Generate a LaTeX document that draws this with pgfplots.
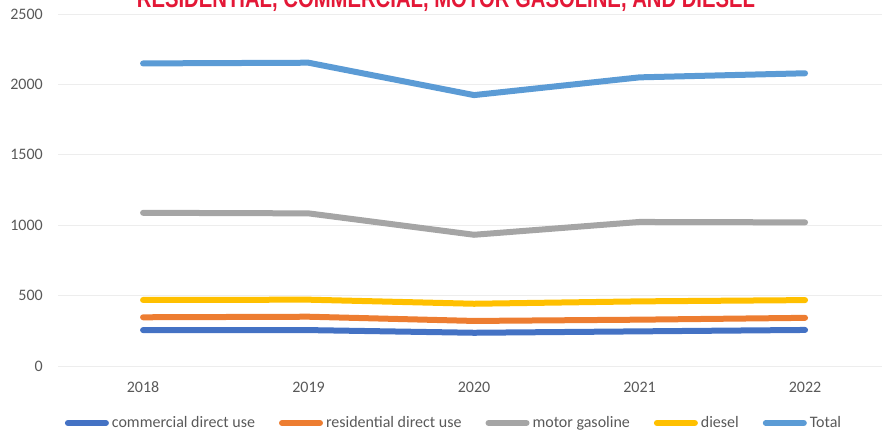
\documentclass[border=0pt]{standalone}
\usepackage{fontspec}
\setmainfont{Carlito}
\newfontfamily\titlefont{Liberation Sans}[FakeStretch=0.78]
\usepackage{pgfplots}
\pgfplotsset{compat=1.18}

\definecolor{comm}{HTML}{4472C4}
\definecolor{resi}{HTML}{ED7D31}
\definecolor{gaso}{HTML}{A5A5A5}
\definecolor{dies}{HTML}{FFC000}
\definecolor{totl}{HTML}{5B9BD5}
\definecolor{txt}{HTML}{595959}
\definecolor{ttl}{HTML}{E31837}
\newcommand\lab{\fontsize{16bp}{19bp}\selectfont}

\begin{document}
\begin{tikzpicture}
\begin{axis}[
  at={(58bp,65bp)}, anchor=south west,
  scale only axis, width=824bp, height=352bp,
  xmin=-0.514, xmax=4.465, ymin=0, ymax=2500,
  xtick={0,1,2,3,4}, xticklabels={2018,2019,2020,2021,2022},
  ytick={0,500,1000,1500,2000,2500},
  axis line style={draw=none}, major tick length=0pt,
  ymajorgrids, grid style={draw=black!7, line width=0.8bp},
  /pgf/number format/assume math mode=true,
  /pgf/number format/set thousands separator={},
  ticklabel style={font=\lab, text=txt, inner sep=0pt},
  xticklabel style={anchor=base, yshift=-26bp},
  yticklabel style={anchor=east, xshift=-15bp},
  every axis plot/.append style={line width=6bp, line cap=round, line join=round},
  legend columns=5,
  legend style={at={(0.4794,-0.162)}, anchor=center, draw=none, fill=none,
    font=\lab, text=txt, inner sep=0pt,
    nodes={inner sep=0pt},
    /tikz/every odd column/.append style={column sep=3bp},
    /tikz/every even column/.append style={column sep=24bp}},
  legend image code/.code={\draw[#1, line cap=round] (0bp,0bp) -- (38bp,0bp);},
]
\addplot[comm] coordinates {(0,255) (1,255) (2,236) (3,246) (4,256)};
\addlegendentry{commercial direct use}
\addplot[resi] coordinates {(0,346) (1,350) (2,320) (3,329) (4,342)};
\addlegendentry{residential direct use}
\addplot[gaso] coordinates {(0,1088) (1,1084) (2,932) (3,1023) (4,1020)};
\addlegendentry{motor gasoline}
\addplot[dies] coordinates {(0,469) (1,471) (2,442) (3,459) (4,468)};
\addlegendentry{diesel}
\addplot[totl] coordinates {(0,2149) (1,2154) (2,1924) (3,2050) (4,2079)};
\addlegendentry{Total}
\end{axis}
\node[anchor=base, text=ttl, inner sep=0pt, font=\titlefont\bfseries\fontsize{26bp}{30bp}\selectfont]
  at (446bp,423bp) {RESIDENTIAL, COMMERCIAL, MOTOR GASOLINE, AND DIESEL};
\pgfresetboundingbox
\useasboundingbox (0,0) rectangle (882bp,431bp);
\end{tikzpicture}
\end{document}
